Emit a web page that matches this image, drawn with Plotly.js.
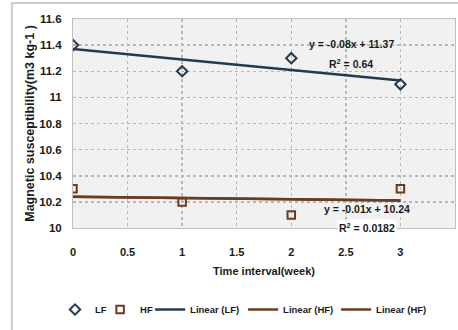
<!DOCTYPE html>
<html><head><meta charset="utf-8">
<script src="https://cdn.plot.ly/plotly-3.0.1.min.js"></script>
<style>html,body{margin:0;padding:0;background:#fff;}#chart{width:458px;height:330px;}</style>
</head><body><div id="chart"></div>
<script>
const weeks = [0, 1, 2, 3];
const lfValues = [11.4, 11.2, 11.3, 11.1];
const hfValues = [10.3, 10.2, 10.1, 10.3];
const lfFit = {slope: -0.08, intercept: 11.37, r2: '0.64'};
const hfFit = {slope: -0.01, intercept: 10.24, r2: '0.0182'};
const fitX = [0, 3];
const xTicks = [0, 0.5, 1, 1.5, 2, 2.5, 3, 3.5];

const LFC = '#233a4e', HFC = '#6a3b1c';
const FF = '"Liberation Sans", Arial, sans-serif';
const TXT = '#1a1a1a';
const line = (f) => fitX.map(x => f.slope * x + f.intercept);

const traces = [
  {x: weeks, y: lfValues, name: 'LF', mode: 'markers', type: 'scatter', legendwidth: 0.1,
   marker: {symbol: 'diamond-open', size: 8, color: LFC, line: {width: 2, color: LFC}}},
  {x: weeks, y: hfValues, name: 'HF', mode: 'markers', type: 'scatter', legendwidth: 5,
   marker: {symbol: 'square-open', size: 7.5, color: HFC, line: {width: 2, color: HFC}}},
  {x: fitX, y: line(lfFit), name: 'Linear (LF)', mode: 'lines', type: 'scatter', legendwidth: 48,
   line: {color: LFC, width: 2.5}},
  {x: fitX, y: line(hfFit), name: 'Linear (HF)', mode: 'lines', type: 'scatter', legendwidth: 48,
   line: {color: HFC, width: 2.5}},
  {x: fitX, y: line(hfFit), name: 'Linear (HF)', mode: 'lines', type: 'scatter', legendwidth: 48,
   line: {color: HFC, width: 2.5}}
];

const fmt = (f) => 'y = ' + f.slope.toFixed(2) + 'x + ' + f.intercept.toFixed(2);
const ann = (x, y, t, bg) => ({x: x, y: y, xref: 'x', yref: 'y', text: t, showarrow: false,
  font: {family: FF, size: 10.5, color: TXT, weight: 'bold'}, bgcolor: bg || 'rgba(0,0,0,0)', borderpad: 1});

const layout = {
  width: 458, height: 330,
  margin: {l: 73, r: 3, t: 19, b: 102},
  paper_bgcolor: '#ffffff', plot_bgcolor: '#f1f1f1',
  font: {family: FF, size: 11, color: TXT, weight: 'bold'},
  showlegend: true,
  legend: {orientation: 'h', x: (55 - 73) / 382, xanchor: 'left', y: -0.39, yanchor: 'middle',
    font: {family: FF, size: 9.5, color: TXT, weight: 'bold'}, itemwidth: 30, tracegroupgap: 0},
  xaxis: {range: [0, 3.5], tickvals: xTicks, showgrid: true, gridcolor: '#b8b8b8', griddash: 'dot', gridwidth: 1.5,
    zeroline: false, showline: true, linecolor: '#c0c0c0', mirror: true, ticks: 'outside', ticklen: 14, tickcolor: 'rgba(0,0,0,0)',
    tickfont: {family: FF, size: 11, color: TXT, weight: 'bold'},
    title: {text: 'Time interval(week)', font: {family: FF, size: 11, color: TXT, weight: 'bold'}, standoff: 10}},
  yaxis: {range: [10, 11.6], dtick: 0.2, tick0: 10, showgrid: true, gridcolor: '#b8b8b8', griddash: 'dot', gridwidth: 1.5,
    zeroline: false, showline: true, linecolor: '#c0c0c0', mirror: true, ticks: 'outside', ticklen: 8, tickcolor: 'rgba(0,0,0,0)',
    tickfont: {family: FF, size: 11.5, color: TXT, weight: 'bold'},
    title: {text: 'Magnetic susceptibility(m3 kg-1 )', font: {family: FF, size: 12.5, color: TXT, weight: 'bold'}, standoff: 1}},
  annotations: [
    ann(2.55, 11.41, fmt(lfFit)),
    ann(2.55, 11.263, 'R<sup>2</sup> = ' + lfFit.r2),
    ann(2.69, 10.145, fmt(hfFit)),
    ann(2.69, 10.007, 'R<sup>2</sup> = ' + hfFit.r2, '#ffffff')
  ],
  shapes: [
    {type: 'rect', xref: 'paper', yref: 'paper', x0: -0.16, x1: 1.2, y0: -0.6, y1: 1.077,
     line: {color: '#cdcdcd', width: 2}, fillcolor: 'rgba(0,0,0,0)', layer: 'below'}
  ]
};

Plotly.newPlot('chart', traces, layout, {displayModeBar: false, staticPlot: true});
</script></body></html>
